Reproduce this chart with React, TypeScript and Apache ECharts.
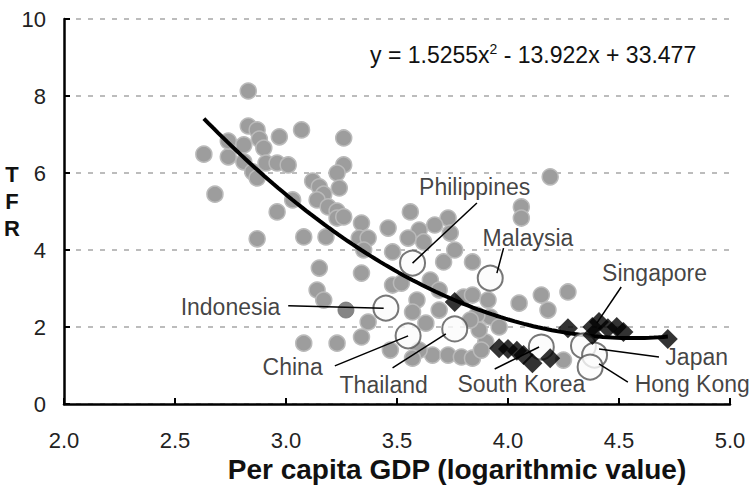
import React, { useEffect, useRef } from "react";
import * as echarts from "echarts";

// Economies shown as grey background dots: [log10 per-capita GDP, TFR]
const worldPoints: [number, number][] = [
  [2.83, 8.13], [2.83, 7.22], [2.87, 7.12], [2.88, 6.88], [2.9, 6.65], [2.97, 6.94], [3.07, 7.12],
  [2.63, 6.49], [2.74, 6.42], [2.74, 6.83], [2.81, 6.73], [2.81, 6.29], [2.85, 6.03], [2.87, 5.87],
  [2.91, 6.26], [2.96, 6.26], [3.01, 6.21], [3.26, 6.91], [3.26, 6.21], [3.23, 6.0], [3.24, 5.61],
  [2.68, 5.45], [2.96, 4.99], [3.12, 5.79], [3.15, 5.64], [3.17, 5.45], [3.14, 5.3], [3.19, 5.12],
  [3.23, 5.01], [3.23, 4.83], [3.03, 5.3], [2.87, 4.29], [3.08, 4.34], [3.18, 4.34], [3.26, 4.86],
  [3.34, 4.7], [3.46, 4.57], [3.33, 4.31], [3.37, 4.31], [3.35, 4.0], [3.56, 4.99], [3.73, 4.83],
  [3.6, 4.52], [3.67, 4.65], [3.74, 4.44], [3.55, 4.31], [3.62, 4.21], [3.76, 4.0], [3.48, 3.95],
  [3.84, 3.69], [3.71, 3.69], [4.06, 5.12], [4.06, 4.83], [4.19, 5.9], [3.34, 3.4], [3.15, 3.53],
  [3.14, 2.96], [3.17, 2.7], [3.48, 3.09], [3.52, 3.14], [3.65, 3.22], [3.59, 2.7], [3.69, 2.96],
  [3.8, 2.78], [3.57, 2.39], [3.37, 2.13], [3.34, 1.74], [3.08, 1.58], [3.23, 1.58], [3.69, 2.44],
  [3.84, 2.83], [3.91, 2.7], [3.92, 2.26], [3.86, 2.31], [3.96, 2.0], [4.05, 2.62], [4.15, 2.83],
  [4.18, 2.44], [4.27, 2.91], [3.63, 2.1], [3.66, 1.27], [3.73, 1.27], [3.79, 1.22], [3.84, 1.19],
  [3.6, 1.4], [3.9, 1.61], [3.88, 1.4], [4.25, 1.14], [3.47, 1.4], [3.57, 1.19], [3.87, 1.92],
  [3.83, 2.18],
];

// Darker highlighted economy
const darkPoints: [number, number][] = [[3.27, 2.44]];

// Asian economies drawn as open circles
const asiaPoints: [number, number][] = [
  [3.57, 3.66], [3.92, 3.27], [3.45, 2.49], [3.55, 1.77], [3.76, 1.95],
  [4.15, 1.48], [4.34, 1.51], [4.39, 1.27], [4.37, 0.96],
];

// Time paths shown as black diamonds
const koreaPath: [number, number][] = [
  [3.96, 1.45], [4.0, 1.43], [4.04, 1.38], [4.07, 1.27], [4.11, 1.06], [4.19, 1.19],
];
const otherPath: [number, number][] = [
  [3.76, 2.65], [4.27, 1.97], [4.38, 2.0], [4.41, 2.13], [4.45, 1.97], [4.49, 2.0],
  [4.52, 1.87], [4.38, 1.79], [4.72, 1.69],
];

// Quadratic trend: y = a x^2 + b x + c
const fitCoefficients = [1.5255, -13.922, 33.477];
const fitRange = [2.63, 4.72];

// Annotation texts, their anchors and leader lines
const labelNames = ["Philippines", "Malaysia", "Indonesia", "China", "Thailand", "South Korea", "Singapore", "Japan", "Hong Kong"];
const labelAt: [number, number][] = [
  [3.85, 5.64], [4.09, 4.31], [2.75, 2.52], [3.03, 0.96], [3.44, 0.49],
  [4.06, 0.52], [4.66, 3.4], [4.85, 1.22], [4.83, 0.52],
];
const leaderStart: [number, number][] = [
  [3.86, 5.22], [3.98, 4.05], [3.01, 2.55], [3.22, 0.99], [3.48, 0.94],
  [3.94, 0.91], [4.51, 3.04], [4.68, 1.22], [4.54, 0.57],
];
const leaderEnd: [number, number][] = [
  [3.57, 3.66], [3.95, 3.4], [3.44, 2.49], [3.55, 1.77], [3.72, 1.82],
  [4.14, 1.48], [4.4, 2.1], [4.41, 1.43], [4.41, 1.04],
];

const FONT = "Liberation Sans, Arial, sans-serif";

function trendPoints(): [number, number][] {
  const [a, b, c] = fitCoefficients;
  const pts: [number, number][] = [];
  const steps = 100;
  for (let i = 0; i <= steps; i++) {
    const x = fitRange[0] + ((fitRange[1] - fitRange[0]) * i) / steps;
    pts.push([x, a * x * x + b * x + c]);
  }
  return pts;
}

export default function App() {
  const ref = useRef<HTMLDivElement>(null);

  useEffect(() => {
    if (!ref.current) return;
    const chart = echarts.init(ref.current, null, { renderer: "svg" });
    const [a, b, c] = fitCoefficients;
    const eq =
      `{t|y = ${a}x}{s|2}{t| ${b < 0 ? "-" : "+"} ${Math.abs(b)}x ${c < 0 ? "-" : "+"} ${Math.abs(c)}}`;

    chart.setOption({
      animation: false,
      backgroundColor: "#ffffff",
      grid: { left: 64, right: 24, top: 19, bottom: 81, containLabel: false },
      xAxis: {
        type: "value",
        min: 2,
        max: 5,
        interval: 0.5,
        axisLine: { show: true, lineStyle: { color: "#000", width: 2.5 } },
        axisTick: { show: true, inside: true, length: 6, lineStyle: { color: "#000", width: 2 } },
        axisLabel: {
          fontSize: 22,
          fontFamily: FONT,
          color: "#222",
          margin: 25,
          formatter: (v: number) => v.toFixed(1),
        },
        splitLine: { show: false },
      },
      yAxis: {
        type: "value",
        min: 0,
        max: 10,
        interval: 2,
        axisLine: { show: true, lineStyle: { color: "#000", width: 2.5 } },
        axisTick: { show: true, inside: true, length: 6, lineStyle: { color: "#000", width: 2 } },
        axisLabel: { fontSize: 22, fontFamily: FONT, color: "#222", margin: 18 },
        splitLine: { show: true, lineStyle: { color: "#bcbcbc", width: 2, type: [5, 7] } },
      },
      graphic: [
        {
          type: "text",
          x: 457,
          y: 469,
          style: {
            text: "Per capita GDP (logarithmic value)",
            font: `bold 28px ${FONT}`,
            fill: "#111",
            align: "center",
            verticalAlign: "middle",
          },
        },
        ...["T", "F", "R"].map((ch, i) => ({
          type: "text",
          x: 12,
          y: 174 + i * 27,
          style: {
            text: ch,
            font: `bold 22px ${FONT}`,
            fill: "#111",
            align: "center",
            verticalAlign: "middle",
          },
        })),
        {
          type: "text",
          x: 370,
          y: 55,
          style: {
            text: eq,
            fill: "#111",
            verticalAlign: "middle",
            rich: {
              t: { fontSize: 23, fontFamily: FONT, fill: "#111", lineHeight: 26 },
              s: { fontSize: 14, fontFamily: FONT, fill: "#111", verticalAlign: "top", lineHeight: 14 },
            },
          },
        },
      ],
      series: [
        {
          type: "scatter",
          data: worldPoints,
          symbolSize: 16,
          itemStyle: { color: "#9d9d9d", borderColor: "#bababa", borderWidth: 1.5, opacity: 1 },
          z: 2,
        },
        {
          type: "scatter",
          data: darkPoints,
          symbolSize: 16,
          itemStyle: { color: "#666", borderColor: "#777", borderWidth: 1 },
          z: 2,
        },
        {
          type: "line",
          data: trendPoints(),
          showSymbol: false,
          symbol: "none",
          lineStyle: { color: "#000", width: 4 },
          z: 3,
        },
        {
          type: "scatter",
          data: asiaPoints,
          symbolSize: 25,
          itemStyle: { color: "#fbfbfb", borderColor: "#555", borderWidth: 2 },
          z: 4,
        },
        {
          type: "scatter",
          data: [...koreaPath, ...otherPath],
          symbol: "diamond",
          symbolSize: 20,
          itemStyle: { color: "#000" },
          z: 5,
        },
        {
          type: "lines",
          coordinateSystem: "cartesian2d",
          data: leaderStart.map((s, i) => ({ coords: [s, leaderEnd[i]] })),
          lineStyle: { color: "#000", width: 1.5, opacity: 1 },
          z: 6,
        },
        {
          type: "scatter",
          clip: false,
          data: labelAt.map((p, i) => ({ name: labelNames[i], value: p })),
          symbolSize: 1,
          itemStyle: { color: "rgba(0,0,0,0)" },
          label: {
            show: true,
            position: "inside",
            formatter: (p: any) => p.name,
            fontSize: 23,
            fontFamily: FONT,
            color: "#111",
          },
          z: 7,
        },
      ],
    });
    return () => chart.dispose();
  }, []);

  return (
    <div
      ref={ref}
      style={{ position: "absolute", left: 0, top: 0, width: 754, height: 485 }}
    />
  );
}
